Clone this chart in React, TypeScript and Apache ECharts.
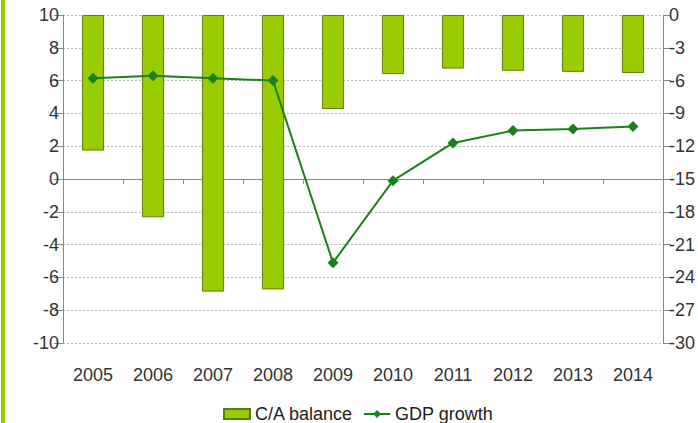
import React, { useEffect, useRef } from "react";
import * as echarts from "echarts";

const years = ["2005", "2006", "2007", "2008", "2009", "2010", "2011", "2012", "2013", "2014"];
const caBalance = [-12.4, -18.5, -25.3, -25.1, -8.6, -5.4, -4.9, -5.1, -5.2, -5.3];
const gdpGrowth = [6.15, 6.3, 6.15, 6.0, -5.1, -0.1, 2.2, 2.95, 3.05, 3.2];

const FONT = "Liberation Sans, Arial, sans-serif";

export default function App() {
  const ref = useRef<HTMLDivElement>(null);
  useEffect(() => {
    if (!ref.current) return;
    const chart = echarts.init(ref.current, undefined, { renderer: "svg" });
    chart.setOption({
      animation: false,
      backgroundColor: "#ffffff",
      textStyle: { fontFamily: FONT },
      grid: { left: 63, right: 35, top: 15, bottom: 80, containLabel: false },
      graphic: [
        { type: "rect", left: 1, top: 0, shape: { x: 0, y: 0, width: 4, height: 423 }, style: { fill: "#99CC00" } },
      ],
      legend: {
        left: 218,
        top: 400,
        itemWidth: 26,
        itemHeight: 10,
        itemGap: 10,
        textStyle: { fontSize: 18, color: "#222", fontFamily: FONT },
        data: [
          { name: "C/A balance", icon: "rect" },
          { name: "GDP growth" },
        ],
      },
      xAxis: [
        {
          type: "category",
          data: years,
          position: "bottom",
          axisLine: { onZero: true, onZeroAxisIndex: 0, lineStyle: { color: "#888888", width: 1 } },
          axisTick: { show: true, length: 5, lineStyle: { color: "#888888" } },
          axisLabel: { show: false },
          splitLine: { show: false },
        },
        {
          type: "category",
          data: years,
          position: "bottom",
          axisLine: { show: false, onZero: false },
          axisTick: { show: false },
          axisLabel: { show: true, margin: 23, fontSize: 18, color: "#333", fontFamily: FONT },
          splitLine: { show: false },
        },
      ],
      yAxis: [
        {
          type: "value",
          min: -10,
          max: 10,
          interval: 2,
          position: "left",
          axisLine: { show: true, lineStyle: { color: "#888888" } },
          axisTick: { show: true, length: 9, lineStyle: { color: "#888888" } },
          axisLabel: { fontSize: 18, color: "#333", margin: 4, fontFamily: FONT },
          splitLine: { show: true, lineStyle: { color: "#BBBBBB", type: [2, 2], width: 1 } },
        },
        {
          type: "value",
          min: -30,
          max: 0,
          interval: 3,
          position: "right",
          axisLine: { show: true, lineStyle: { color: "#888888" } },
          axisTick: { show: true, length: 8, lineStyle: { color: "#888888" } },
          axisLabel: { fontSize: 18, color: "#333", margin: 6, fontFamily: FONT },
          splitLine: { show: false },
        },
      ],
      series: [
        {
          name: "C/A balance",
          type: "bar",
          xAxisIndex: 0,
          yAxisIndex: 1,
          data: caBalance,
          barWidth: "37%",
          itemStyle: { color: "#99CC00", borderColor: "#5E7D0A", borderWidth: 1 },
        },
        {
          name: "GDP growth",
          type: "line",
          xAxisIndex: 0,
          yAxisIndex: 0,
          data: gdpGrowth,
          symbol: "diamond",
          symbolSize: 11,
          lineStyle: { color: "#1A801A", width: 2 },
          itemStyle: { color: "#1A801A" },
        },
      ],
    });
    return () => chart.dispose();
  }, []);
  return <div ref={ref} style={{ position: "fixed", left: 0, top: 0, width: 698, height: 423 }} />;
}
